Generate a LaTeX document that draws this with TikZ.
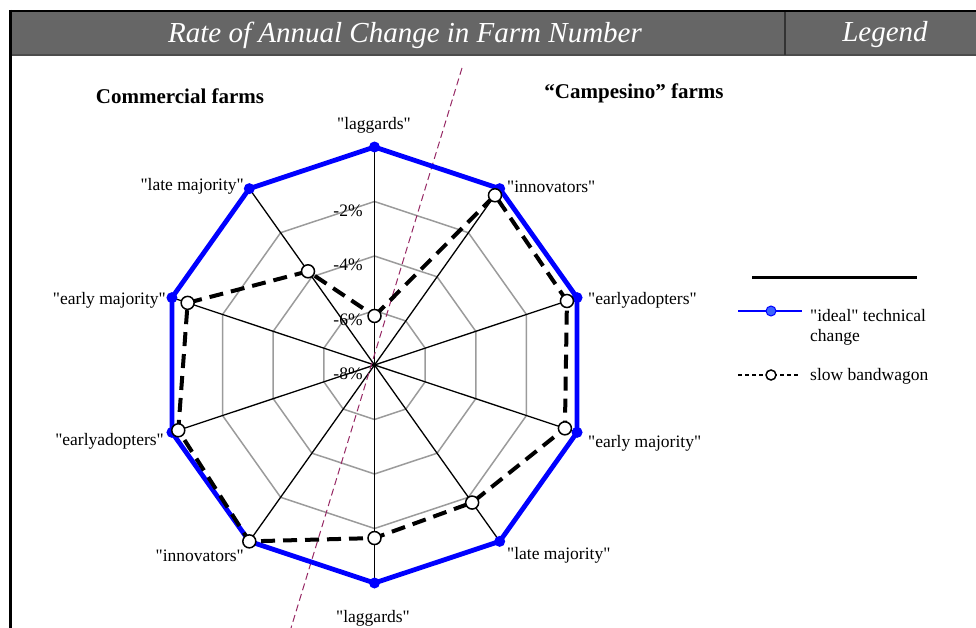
\documentclass[tikz,border=0pt]{standalone}
\usepackage{fontspec}
\setmainfont{Liberation Serif}[Ligatures=TeXOff]
\usetikzlibrary{positioning}
\tikzstyle{chart} = [x = 1pt, y = -1pt]
\tikzstyle{radar} = [shift={(374.5,365)}, xscale=0.977]
\definecolor{headGray}{RGB}{102,102,102}
\definecolor{ringGray}{RGB}{155,155,155}
\definecolor{idealBlue}{RGB}{0,0,255}
\definecolor{keyBlue}{RGB}{60,100,255}
\definecolor{trendColor}{RGB}{150,40,100}
\tikzstyle{ringLine} = [color=ringGray, line width=1.5pt]
\tikzstyle{spokeLine} = [color=black, line width=1.3pt]
\tikzstyle{trendLine} = [color=trendColor, line width=1pt, dash pattern=on 7pt off 4pt]
\tikzstyle{idealLine} = [color=idealBlue, line width=4.8pt, line join=round]
\tikzstyle{slowLine} = [color=black, line width=4pt, dash pattern=on 14pt off 8pt]
\tikzstyle{idealDot} = [circle, fill=idealBlue, inner sep=0pt, minimum size=11pt]
\tikzstyle{slowDot} = [circle, draw=black, fill=white, line width=1.5pt, inner sep=0pt, minimum size=13pt]
\tikzstyle{axisText} = [font=\fontsize{17.5}{20}\selectfont, inner sep=0pt]
\tikzstyle{titleText} = [font=\fontsize{21}{23}\selectfont\bfseries, inner sep=0pt]
\tikzstyle{headText} = [font=\fontsize{29}{31}\selectfont\itshape, text=white, inner sep=0pt]
\newcommand{\unitR}{27.25}
\newcommand{\spokeAngle}[1]{-90 + 36 * #1}

\begin{document}
\begin{tikzpicture}[chart]
  \useasboundingbox (0,0) rectangle (976,628);
  % header bar
  \fill [headGray] (10,12) rectangle (976,55);
  \draw [black, line width=2.5pt] (9,11) -- (976,11);
  \draw [black!70, line width=1.5pt] (10,55) -- (976,55);
  \draw [black!80, line width=1.5pt] (785,12) -- (785,55);
  \draw [black, line width=3pt] (10.5,10) -- (10.5,628);
  \node [headText] (headChart) at (405,35) {Rate of Annual Change in Farm Number};
  \node [headText] (headLegend) at (885,35) {Legend};

  \node [titleText] (titleCommercial) at (180,96) {Commercial farms};
  \node [titleText] (titleCampesino) at (634,93) {“Campesino” farms};

  \begin{scope}[radar]
    \coordinate (center) at (0,0);
    % rings
    \foreach \v in {-6,-4,-2,0} {
      \draw [ringLine] (\spokeAngle{0}:{\unitR*(\v+8)})
        \foreach \k in {1,...,9} { -- (\spokeAngle{\k}:{\unitR*(\v+8)}) } -- cycle;
    }
    % spokes
    \foreach \k in {0,...,9} {
      \coordinate (rim\k) at (\spokeAngle{\k}:{\unitR*8});
      \draw [spokeLine] (center) -- (rim\k);
    }
    % ring labels
    \foreach \v/\r in {2/6,4/4,6/2,8/0} {
      \node [axisText, anchor=east] (ring\r) at (-12,{-\unitR*\r+9}) {-\v\%};
    }
  \end{scope}

  % trend line
  \coordinate (trendTop) at (462,68);
  \coordinate (trendBottom) at (291,628);
  \draw [trendLine] (trendTop) -- (trendBottom);

  \begin{scope}[radar]
    % data points
    \foreach \k/\s in {0/-6.2,1/-0.3,2/-0.4,3/-0.48,4/-1.76,5/-1.65,6/0,7/-0.25,8/-0.62,9/-3.75} {
      \coordinate (ideal\k) at (\spokeAngle{\k}:{\unitR*8});
      \coordinate (slow\k) at (\spokeAngle{\k}:{\unitR*(\s+8)});
    }
    \draw [idealLine] (ideal0) \foreach \k in {1,...,9} { -- (ideal\k) } -- cycle;
    \foreach \k in {0,...,9} {
      \node [idealDot] (idealMark\k) at (ideal\k) {};
    }
    \draw [slowLine] (slow0) \foreach \k in {1,...,9} { -- (slow\k) } -- cycle;
    \foreach \k in {0,...,9} {
      \node [slowDot] (slowMark\k) at (slow\k) {};
    }
  \end{scope}

  % axis labels
  \node [axisText] (lagTop) at (374,125) {"laggards"};
  \node [axisText, anchor=west] (innRight) at (507,187) {"innovators"};
  \node [axisText, anchor=west] (earlyRight) at (588,300) {"earlyadopters"};
  \node [axisText, anchor=west] (emRight) at (588,443) {"early majority"};
  \node [axisText, anchor=west] (lmRight) at (507,555) {"late majority"};
  \node [axisText] (lagBottom) at (373,618) {"laggards"};
  \node [axisText, anchor=east] (innLeft) at (244,556) {"innovators"};
  \node [axisText, anchor=east] (earlyLeft) at (164,441) {"earlyadopters"};
  \node [axisText, anchor=east] (emLeft) at (166,300) {"early majority"};
  \node [axisText, anchor=east] (lmLeft) at (244,186) {"late majority"};

  % legend
  \coordinate (keyRuleA) at (752,277);
  \coordinate (keyRuleB) at (917,277);
  \draw [black, line width=3pt] (keyRuleA) -- (keyRuleB);
  \coordinate (idealKeyA) at (738,311);
  \coordinate (idealKeyB) at (802,311);
  \draw [idealBlue, line width=2.5pt] (idealKeyA) -- (idealKeyB);
  \node [circle, draw=idealBlue, fill=keyBlue, line width=1pt, inner sep=0pt, minimum size=10pt] (idealKey) at (771,311) {};
  \node [axisText, anchor=north west, align=left] (idealText) at (810,309) {"ideal" technical\\change};
  \coordinate (slowKeyA) at (738,375);
  \coordinate (slowKeyB) at (798,375);
  \draw [black, line width=2.5pt, dash pattern=on 4pt off 3pt] (slowKeyA) -- (slowKeyB);
  \node [circle, draw=black, fill=white, line width=1.5pt, inner sep=0pt, minimum size=10pt] (slowKey) at (771,375) {};
  \node [axisText, anchor=west] (slowText) at (810,376) {slow bandwagon};
\end{tikzpicture}
\end{document}
